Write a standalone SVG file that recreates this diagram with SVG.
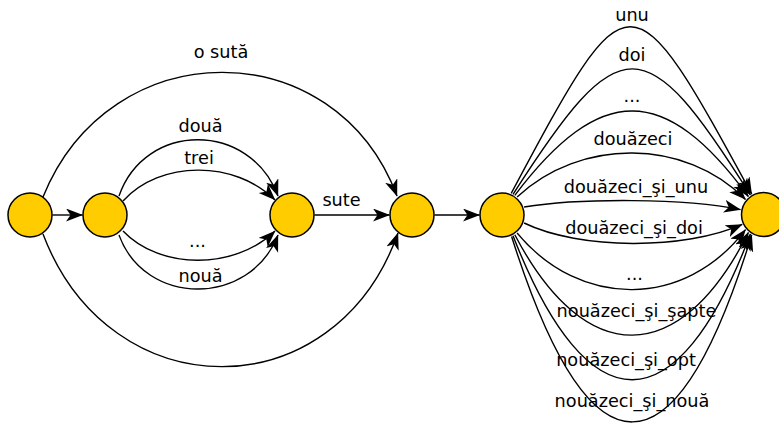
<svg xmlns="http://www.w3.org/2000/svg" width="779" height="423" viewBox="0 0 779 423">
<style>
.node circle{fill:#ffcc00;stroke:#000;stroke-width:1.5}
.edge{fill:none;stroke:#000;stroke-width:1.4;marker-end:url(#arr)}
text{font-family:"DejaVu Sans","Liberation Sans",sans-serif;font-size:17.7px;fill:#000;text-anchor:middle}
</style>
<defs>
<marker id="arr" markerUnits="userSpaceOnUse" markerWidth="18" markerHeight="14" refX="16.5" refY="6.5" orient="auto">
<path d="M0,0 L17,6.5 L0,13 L4.5,6.5 z" fill="#000"/>
</marker>
</defs>
<rect width="779" height="423" fill="#fff"/>
<g id="connectors">
<path class="edge" d="M52.5,215 L82.5,215"/>
<path class="edge" d="M43,197 C110,31 335,31 397,196"/>
<path class="edge" d="M43,234 C110,411 335,411 398,233"/>
<path class="edge" d="M119,196 C145,121 250,121 278,196"/>
<path class="edge" d="M123,201 C160,160 235,160 275,200"/>
<path class="edge" d="M123,231 C160,270 235,270 275,231"/>
<path class="edge" d="M119,235 C145,307 250,307 278,235"/>
<path class="edge" d="M314.5,215 L389.5,215"/>
<path class="edge" d="M434.5,215 L479.5,215"/>
<path class="edge" d="M511.2,193.4 C630,-29 630,-29 751.75,194.1"/>
<path class="edge" d="M513,194.3 C620,27 645,27 750.4,195"/>
<path class="edge" d="M514.8,195.3 C600,82.7 665,82.7 748.4,196.5"/>
<path class="edge" d="M517.1,197 C580,138 685,138 745.5,199.4"/>
<path class="edge" d="M524.1,207 C580,198 685,198 740.5,209.6"/>
<path class="edge" d="M524.1,223 C580,250 685,250 742.2,224.4"/>
<path class="edge" d="M517.1,233 C580,309 685,309 745.5,229.6"/>
<path class="edge" d="M514.8,234.7 C585,369 680,369 748.4,232.5"/>
<path class="edge" d="M513,235.7 C588,428 677,428 750.4,234"/>
<path class="edge" d="M511.6,236.5 C590,484 675,484 751.75,234.9"/>
</g>
<g id="labels">
<text x="221" y="58">o sută</text>
<text x="200.5" y="132">două</text>
<text x="199" y="164">trei</text>
<text x="197.5" y="247">...</text>
<text x="200.5" y="282">nouă</text>
<text x="341.5" y="206">sute</text>
<text x="632" y="21">unu</text>
<text x="632" y="61">doi</text>
<text x="632" y="102">...</text>
<text x="633" y="145">douăzeci</text>
<text x="636" y="193">douăzeci_şi_unu</text>
<text x="634" y="233.5">douăzeci_şi_doi</text>
<text x="634.5" y="280">...</text>
<text x="636.5" y="317">nouăzeci_şi_şapte</text>
<text x="626" y="366">nouăzeci_şi_opt</text>
<text x="632" y="407">nouăzeci_şi_nouă</text>
</g>
<g id="n0" class="node"><circle cx="30" cy="215" r="22"/></g>
<g id="n1" class="node"><circle cx="105" cy="215" r="22"/></g>
<g id="n2" class="node"><circle cx="292" cy="215" r="22"/></g>
<g id="n3" class="node"><circle cx="412" cy="215" r="22"/></g>
<g id="n4" class="node"><circle cx="502" cy="215" r="22"/></g>
<g id="n5" class="node"><circle cx="763.5" cy="214.5" r="22"/></g>
</svg>
